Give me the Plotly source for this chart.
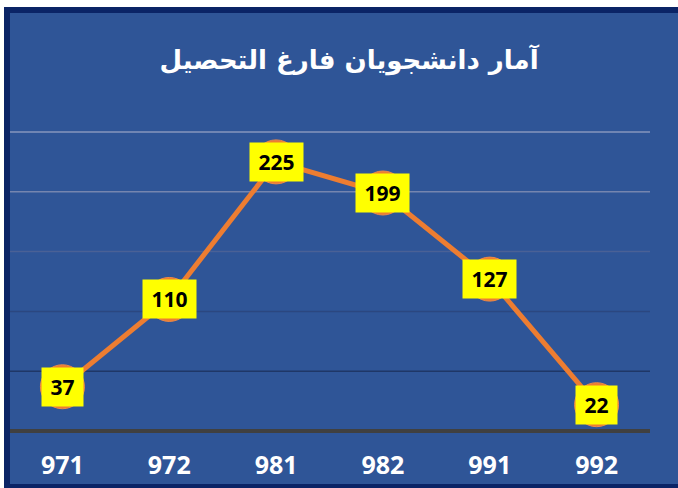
import plotly.graph_objects as go

categories = ["971", "972", "981", "982", "991", "992"]
values = [37, 110, 225, 199, 127, 22]
grid_values = [50, 100, 150, 200, 250]
grid_colors = ["#1f3767", "#2b4780", "#4a6196", "#7585af", "#8796bd"]
title_text = "آمار دانشجویان فارغ التحصیل"

W, H = 678, 488
L, R, T, B = 9, 28, 130, 57
PW, PH = W - L - R, H - T - B
Y_MAX = 301 / 1.196


def px_x(px):
    return (px - L) / PW


def px_y(py):
    return (H - B - py) / PH


fig = go.Figure()

fig.add_trace(go.Scatter(
    x=categories, y=values, mode="lines+markers",
    line=dict(color="#ED7D31", width=5),
    marker=dict(size=44, color="#ED7D31", line=dict(color="#F08A45", width=1)),
    cliponaxis=False, hoverinfo="skip", showlegend=False,
))

for i, v in enumerate(values):
    txt = str(v)
    fig.add_annotation(
        x=i, y=v, xref="x", yref="y", text=txt, showarrow=False,
        font=dict(family="Open Sans", size=21, color="black", weight="bold"),
        bgcolor="#FFFF00", borderpad=0,
        width=41 if len(txt) < 3 else 53, height=38,
        xanchor="center", yanchor="middle",
    )

shapes = [
    dict(type="rect", xref="paper", yref="paper", layer="below",
         x0=px_x(4), x1=px_x(720), y0=px_y(7), y1=px_y(492),
         fillcolor="#0B2466", line=dict(width=0)),
    dict(type="rect", xref="paper", yref="paper", layer="below",
         x0=px_x(10), x1=px_x(720), y0=px_y(13), y1=px_y(484),
         fillcolor="#2F5597", line=dict(width=0)),
]
for gv, gc in zip(grid_values, grid_colors):
    shapes.append(dict(type="line", xref="paper", yref="y", layer="below",
                       x0=px_x(10), x1=1, y0=gv, y1=gv,
                       line=dict(color=gc, width=1.5)))
# baseline (category axis line) centred on zero (y range starts at 0 -> paper 0)
shapes.append(dict(type="line", xref="paper", yref="paper", layer="below",
                   x0=px_x(10), x1=1, y0=0, y1=0,
                   line=dict(color="#404040", width=4)))

fig.update_layout(
    width=W, height=H,
    margin=dict(l=L, r=R, t=T, b=B, pad=0, autoexpand=False),
    paper_bgcolor="white",
    plot_bgcolor="rgba(0,0,0,0)",
    shapes=shapes,
    title=dict(text=title_text, x=349 / W, xanchor="center",
               y=1 - 60 / H, yanchor="middle",
               font=dict(family="DejaVu Sans", size=26, color="white", weight="bold")),
    xaxis=dict(type="category", range=[-0.5, 5.5], showgrid=False,
               showline=False, zeroline=False,
               ticks="", ticklabelstandoff=17, automargin=False,
               tickfont=dict(family="Open Sans", size=25, color="white", weight="bold"),
               fixedrange=True),
    yaxis=dict(range=[0, Y_MAX], showgrid=False, zeroline=False, automargin=False,
               showticklabels=False, ticks="", fixedrange=True),
    showlegend=False,
)

fig.write_html(
    "out.html",
    config={"displayModeBar": False},
    post_script="document.body.style.margin='0';document.body.style.overflow='hidden';",
)
